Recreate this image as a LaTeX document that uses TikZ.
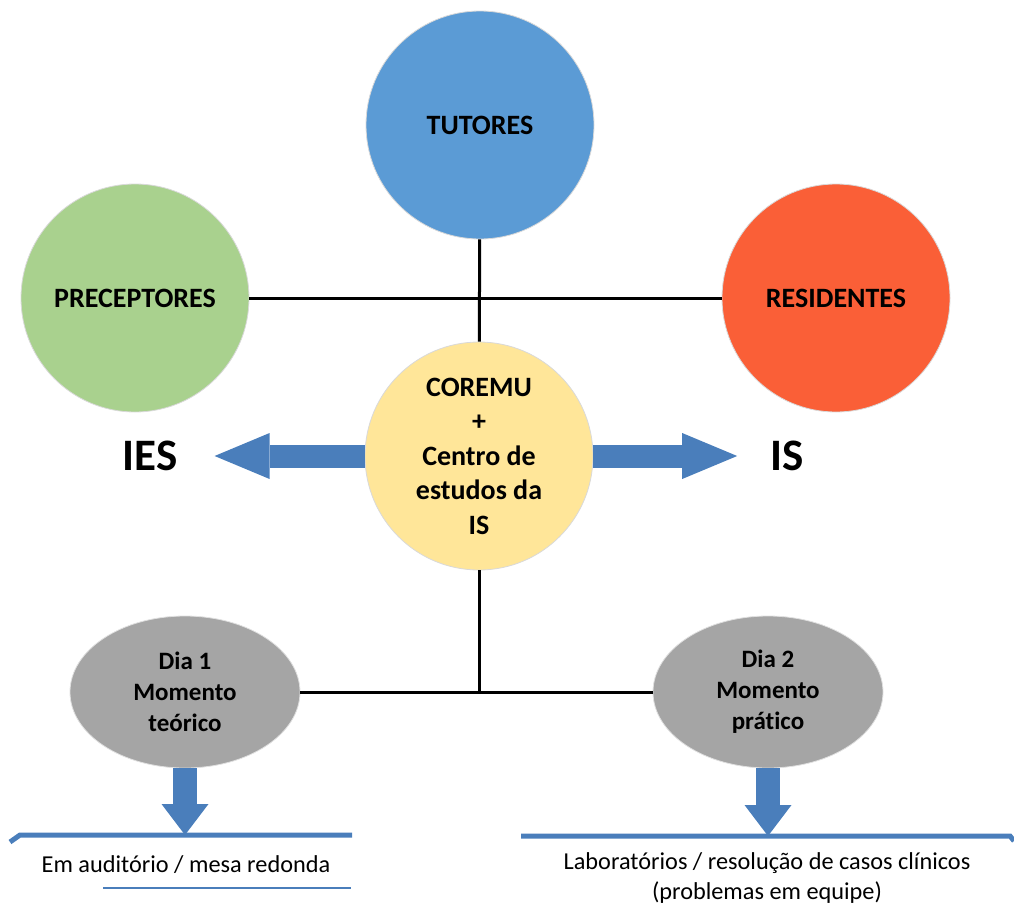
\documentclass[tikz,border=0pt]{standalone}
\usepackage{fontspec}
\setmainfont[Ligatures=CommonOff]{Carlito}
\usetikzlibrary{arrows.meta,shapes.geometric}
\definecolor{tutblue}{HTML}{5B9BD5}
\definecolor{precgreen}{HTML}{A9D18E}
\definecolor{resorange}{HTML}{FA5F37}
\definecolor{coryellow}{HTML}{FFE699}
\definecolor{diagray}{HTML}{A5A5A5}
\definecolor{arrblue}{HTML}{4A7EBB}

\begin{document}
\begin{tikzpicture}[x=1pt,y=-1pt,
    circ/.style={circle, draw=black!15, line width=0.8pt, minimum size=228pt, inner sep=0pt, align=center, font=\fontsize{28}{34.5}\selectfont\bfseries},
    dia/.style={ellipse, fill=diagray, draw=black!12, line width=0.8pt, minimum width=230pt, minimum height=152pt, inner sep=0pt, align=center, font=\fontsize{25}{31}\selectfont\bfseries},
    link/.style={line width=3pt},
    sidearrow/.style={arrblue, line width=23pt, -{Triangle[width=46pt,length=55pt,line width=0pt]}},
    downarrow/.style={arrblue, line width=24pt, -{Triangle[width=47pt,length=31pt,line width=0pt]}},
    bigtext/.style={font=\fontsize{45}{54}\selectfont\bfseries, inner sep=0pt},
    note/.style={font=\fontsize{24.3}{30}\selectfont, align=center, inner sep=0pt}]
    \useasboundingbox (0,0) rectangle (1014,910);

\node[circ, fill=tutblue] (tut) at (480,125) {TUTORES};
\node[circ, fill=precgreen] (prec) at (135,298) {PRECEPTORES};
\node[circ, fill=resorange] (res) at (836,298) {RESIDENTES};
\node[circ, fill=coryellow] (core) at (479,456) {COREMU\\+\\Centro de\\estudos da\\IS};
\node[dia] (dia1) at (185,692) {Dia 1\\Momento\\teórico};
\node[dia] (dia2) at (768,692) {Dia 2\\Momento\\prático};
\node[bigtext] (ies) at (150,456) {IES};
\node[bigtext] (is) at (787,456) {IS};
\node[note] (aud) at (186,865) {Em auditório / mesa redonda};
\node[note] (lab) at (767,878) {Laboratórios / resolução de casos clínicos\\(problemas em equipe)};
\coordinate (hub) at (core |- dia1);
\coordinate (brkL) at (185,835);
\coordinate (brkR) at (768,836);

\draw[link] (prec) -- (res);
\draw[link] (tut) -- (core);
\draw[link] (core) -- (hub);
\draw[link] (dia1) -- (dia2);

\draw[sidearrow, shorten >=37pt] (core.west) -- (core.west -| ies.east);
\draw[sidearrow, shorten >=33pt] (core.east) -- (core.east -| is.west);
\draw[downarrow] (dia1.south) -- (dia1.south |- brkL);
\draw[downarrow] (dia2.south) -- (dia2.south |- brkR);

\draw[arrblue, line width=5pt] (10,842) -- (20,835) -- (brkL) -- (352,835);
\draw[arrblue, line width=1.5pt] (103,888) -- (351,888);
\draw[arrblue, line width=5pt] (521,836) -- (brkR) -- (1010,836) -- (1014,841);
\end{tikzpicture}
\end{document}
